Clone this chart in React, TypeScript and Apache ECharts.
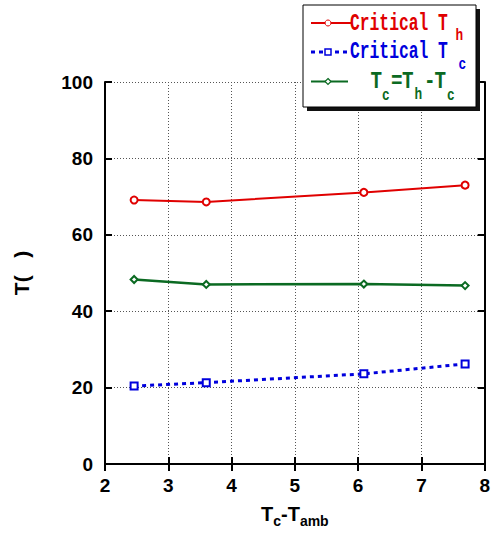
import React, { useEffect, useRef } from "react";
import * as echarts from "echarts";

const xValues = [2.46, 3.6, 6.09, 7.69];
const criticalTh = [69.1, 68.6, 71.1, 73.0];
const criticalTc = [20.4, 21.3, 23.6, 26.2];
const deltaT = [48.3, 47.0, 47.1, 46.7];

const RED = "#e00000";
const BLUE = "#0000dd";
const GREEN = "#0b6a22";

const pair = (ys: number[]) => xValues.map((x, i) => [x, ys[i]]);

const MONO = '"Liberation Mono", "DejaVu Sans Mono", monospace';
const SANS = 'Arial, "Liberation Sans", sans-serif';

function piece(x: number, y: number, text: string, color: string, size: number, scale: number) {
  return {
    type: "text",
    x,
    y,
    scaleX: scale,
    z: 102,
    style: {
      text,
      fill: color,
      fontSize: size,
      fontWeight: "bold",
      fontFamily: MONO,
      align: "left",
      verticalAlign: "middle",
    },
  };
}

export default function App() {
  const ref = useRef<HTMLDivElement>(null);
  useEffect(() => {
    if (!ref.current) return;
    const chart = echarts.init(ref.current, null, { renderer: "svg" });
    const axisLine = { show: true, lineStyle: { color: "#000", width: 2 } };
    const axisTick = { show: true, inside: true, length: 7, lineStyle: { color: "#000", width: 2 } };
    const splitLine = { show: true, lineStyle: { color: "#555", width: 1, type: [1, 2] } };
    const labelStyle = { color: "#000", fontSize: 19, fontWeight: "bold", fontFamily: SANS };
    const M = 24;
    const S = 17;
    const SC = 0.68;
    const legendGraphics: any[] = [
      { type: "rect", z: 100, shape: { x: 307, y: 9, width: 173, height: 102 }, style: { fill: "#111" } },
      { type: "rect", z: 101, shape: { x: 303, y: 5, width: 173, height: 102 }, style: { fill: "#fff", stroke: "#000", lineWidth: 1 } },
      { type: "line", z: 102, shape: { x1: 311, y1: 23, x2: 351, y2: 23 }, style: { stroke: RED, lineWidth: 2 } },
      { type: "circle", z: 103, shape: { cx: 328, cy: 23, r: 3 }, style: { fill: "#fff", stroke: RED, lineWidth: 1 } },
      { type: "line", z: 102, shape: { x1: 311, y1: 52, x2: 351, y2: 52 }, style: { stroke: BLUE, lineWidth: 3, lineDash: [4, 4] } },
      { type: "rect", z: 103, shape: { x: 325, y: 49, width: 6, height: 6 }, style: { fill: "#fff", stroke: BLUE, lineWidth: 1.5 } },
      { type: "line", z: 102, shape: { x1: 311, y1: 81.5, x2: 348, y2: 81.5 }, style: { stroke: GREEN, lineWidth: 2 } },
      { type: "polygon", z: 103, shape: { points: [[328, 78.5], [331, 81.5], [328, 84.5], [325, 81.5]] }, style: { fill: "#fff", stroke: GREEN, lineWidth: 1.2 } },
      piece(350, 23.5, "Critical T", RED, M, SC),
      piece(455.5, 35, "h", RED, S, 0.75),
      piece(350, 51.7, "Critical T", BLUE, M, SC),
      piece(458.5, 64.5, "c", BLUE, S, 0.75),
      piece(370.5, 81.7, "T", GREEN, M, 0.8),
      piece(382, 95.5, "c", GREEN, S, 0.75),
      piece(391, 81.7, "=", GREEN, M, 0.8),
      piece(402, 81.7, "T", GREEN, M, 0.8),
      piece(414.5, 94, "h", GREEN, S, 0.75),
      piece(424, 81.7, "-", GREEN, M, 0.8),
      piece(434.5, 81.7, "T", GREEN, M, 0.8),
      piece(447, 95.5, "c", GREEN, S, 0.75),
    ];
    chart.setOption({
      animation: false,
      backgroundColor: "#fff",
      grid: { left: 105, right: 6, top: 82, bottom: 79, containLabel: false },
      xAxis: [
        {
          type: "value",
          min: 2,
          max: 8,
          interval: 1,
          axisLine,
          axisTick,
          splitLine,
          axisLabel: { ...labelStyle, margin: 12 },
          name: "{m|T}{s|c}{m|-T}{s|amb}",
          nameLocation: "middle",
          nameGap: 40,
          nameTextStyle: {
            rich: {
              m: { fontSize: 20, fontWeight: "bold", fontFamily: SANS, color: "#000", lineHeight: 22, verticalAlign: "top" },
              s: { fontSize: 14, fontWeight: "bold", fontFamily: SANS, color: "#000", lineHeight: 14, verticalAlign: "top", padding: [10, 0, 0, 0] },
            },
          },
        },
        {
          type: "value",
          position: "top",
          min: 2,
          max: 8,
          interval: 1,
          axisLine,
          axisTick,
          splitLine: { show: false },
          axisLabel: { show: false },
        },
      ],
      yAxis: [
        {
          type: "value",
          min: 0,
          max: 100,
          interval: 20,
          axisLine,
          axisTick,
          splitLine,
          axisLabel: { ...labelStyle, margin: 12 },
          name: "T(   )",
          nameLocation: "middle",
          nameGap: 73,
          nameRotate: 90,
          nameTextStyle: { fontSize: 21, fontWeight: "bold", fontFamily: SANS, color: "#000" },
        },
        {
          type: "value",
          position: "right",
          min: 0,
          max: 100,
          interval: 20,
          axisLine,
          axisTick,
          splitLine: { show: false },
          axisLabel: { show: false },
        },
      ],
      series: [
        {
          name: "Critical Th",
          type: "line",
          data: pair(criticalTh),
          symbol: "emptyCircle",
          symbolSize: 7,
          lineStyle: { color: RED, width: 2 },
          itemStyle: { color: RED, borderWidth: 1 },
        },
        {
          name: "Critical Tc",
          type: "line",
          data: pair(criticalTc),
          symbol: "emptyRect",
          symbolSize: 7,
          lineStyle: { color: BLUE, width: 3, type: [4, 4] },
          itemStyle: { color: BLUE, borderWidth: 1.5 },
        },
        {
          name: "Tc=Th-Tc",
          type: "line",
          data: pair(deltaT),
          symbol: "emptyDiamond",
          symbolSize: 7,
          lineStyle: { color: GREEN, width: 2.5 },
          itemStyle: { color: GREEN, borderWidth: 1.2 },
        },
      ],
      graphic: legendGraphics,
    });
    return () => chart.dispose();
  }, []);
  return <div ref={ref} style={{ width: 493, height: 543, position: "absolute", left: 0, top: 0 }} />;
}
